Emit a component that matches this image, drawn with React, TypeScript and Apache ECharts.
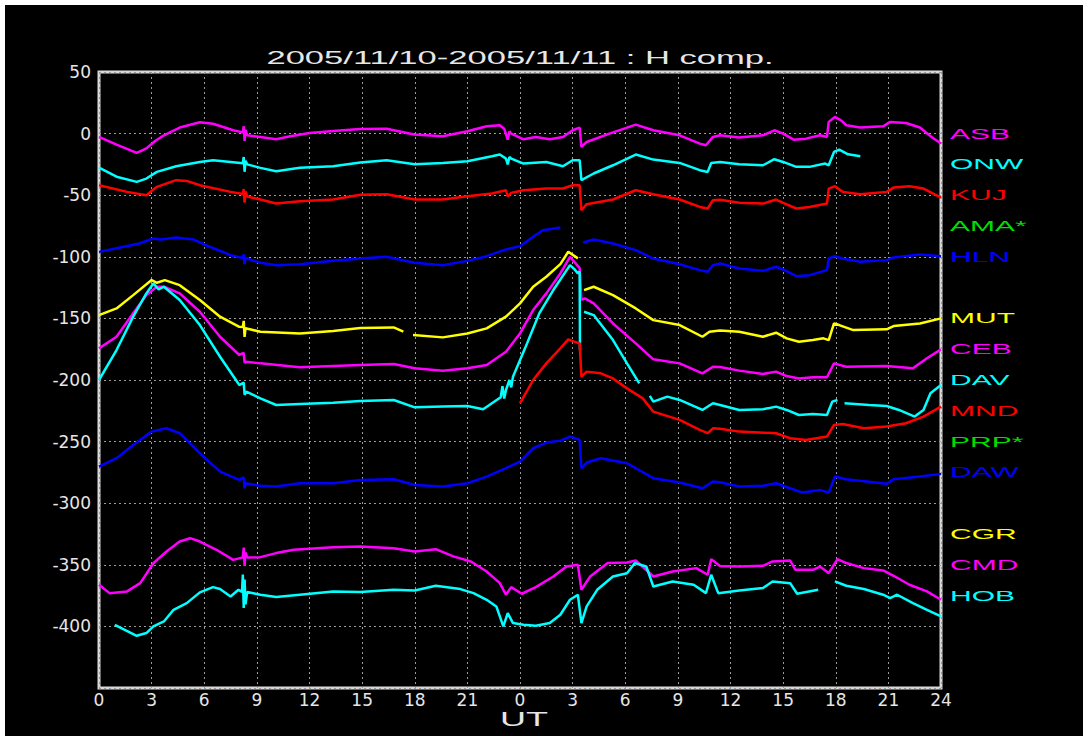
import React, { useEffect, useRef } from "react";
import * as echarts from "echarts";

const TITLE = "2005/11/10-2005/11/11 : H comp.";
const X_NAME = "UT";

const STATIONS = ["ASB", "ONW", "KUJ", "AMA*", "HLN", "MUT", "CEB", "DAV", "MND", "PRP*", "DAW", "CGR", "CMD", "HOB"];
const STATION_COLORS = ["#ff00ff", "#00ffff", "#ff0000", "#00dd00", "#0000ff", "#ffff00", "#ff00ff", "#00ffff", "#ff0000", "#00dd00", "#0000ff", "#ffff00", "#ff00ff", "#00ffff"];
const STATION_LEVELS = [0, -25, -50, -75, -100, -150, -175, -200, -225, -250, -275, -325, -350, -375];

type P = [number, number | null];

const ASB: P[] = [[0,-2.7],[1,-9],[2.15,-15.7],[2.7,-12],[3.2,-6],[3.7,-1.4],[4.6,4.9],[5.75,9.2],[6.5,8],[7.65,2.7],[8.2,1],[8.25,6],[8.3,-6],[8.35,3],[8.45,-1.4],[9.2,-2.7],[10.1,-4.6],[10.9,-2.2],[12,0.5],[13.35,2.2],[14.9,3.8],[16.4,4],[17.97,-0.8],[19.6,-2.2],[21,1.9],[22.1,6],[22.85,6.8],[23.1,4],[23.3,-4.9],[23.4,2],[23.5,0],[24.2,-4.6],[24.9,-2.7],[25.7,-4.6],[26.45,-2.7],[27,2.7],[27.4,4.9],[27.5,-10.8],[27.8,-6.8],[29.1,0],[30.6,7.3],[31.6,2.7],[33.1,-1.4],[34.25,-8.1],[34.6,-9.5],[35,-2.7],[35.4,-1.4],[36.5,-3.2],[37.85,-1.4],[38.5,2.7],[39,0],[39.6,-4.9],[40.3,-4.1],[41.1,-1.4],[41.5,-2.7],[41.6,9.5],[41.95,13.5],[42.3,10.8],[42.6,6.8],[43.4,4.9],[44.7,5.9],[45.1,9.5],[46,8.6],[46.8,4.9],[47.5,-3.2],[48,-8.1]];

const ONW: P[] = [[0,-27.6],[1,-35],[2.15,-39.2],[2.7,-36.5],[3.3,-31.1],[4.4,-26.5],[5.75,-23],[6.5,-21.6],[7.5,-23],[8.2,-24],[8.25,-19],[8.3,-31],[8.35,-22],[8.45,-25],[9.2,-27.8],[10.1,-30.5],[11.45,-27.8],[13.35,-26.5],[14.9,-23.5],[16.4,-21.6],[18,-24.9],[19.6,-23.8],[21,-22.4],[22.4,-18.4],[22.85,-17],[23.2,-20.3],[23.3,-25],[23.4,-19],[23.5,-20.3],[24.2,-24.3],[25.5,-23],[26.45,-26.5],[27,-21.6],[27.4,-21.6],[27.5,-37.8],[28.2,-32.4],[29.3,-25.7],[30.6,-17],[31.6,-21.1],[33.1,-23.8],[34.25,-29.7],[34.7,-31.1],[34.9,-23.8],[35.4,-23],[36.5,-24.9],[37.85,-25.7],[38.5,-20.8],[39,-23],[39.75,-27],[40.5,-27],[41.4,-24.3],[41.6,-25.7],[41.9,-14.9],[42.2,-13],[42.7,-16.8],[43.4,-18.4]];

const KUJ: P[] = [[0,-41.9],[1.6,-47.3],[2.7,-50],[3.3,-43.2],[4.4,-37.8],[5,-38.4],[5.75,-41.9],[7.5,-47.3],[8.2,-49],[8.25,-45],[8.3,-56],[8.35,-47],[8.45,-51],[9.2,-53.5],[10.1,-56.8],[11.45,-54.9],[13.35,-53.5],[14.9,-49.7],[16.4,-49.2],[18,-53.5],[19.6,-53.5],[21,-50.8],[22.4,-48.6],[23.2,-46],[23.3,-51],[23.5,-48.1],[24.2,-46],[25.5,-44.6],[26.45,-44.6],[27,-41.9],[27.4,-41.9],[27.5,-62.2],[27.8,-57.3],[29.3,-53.5],[30.6,-46],[31.6,-49.2],[33.1,-53.5],[34.25,-59.5],[34.7,-60.8],[35,-54],[35.4,-53.7],[36.5,-56.2],[37.85,-56.8],[38.6,-53.5],[39,-56.2],[39.75,-60.8],[40.5,-59.5],[41.5,-56.8],[41.6,-44.6],[41.95,-42.7],[42.4,-47.3],[43.4,-49.2],[44.9,-47.3],[45.3,-43.8],[46.2,-42.7],[47,-44.6],[48,-51.9]];

const HLN: P[] = [[0,-96],[1.2,-92.4],[2.3,-89.2],[3.1,-85.1],[3.5,-86],[4.4,-84.3],[5.4,-86],[6.1,-90.6],[7.5,-98.7],[8.2,-101],[8.25,-98],[8.3,-106],[8.35,-101],[9.2,-104.9],[10.1,-106.8],[11.45,-106],[13.35,-103.3],[14.9,-101.4],[16.4,-100],[18,-104.9],[19.6,-106.8],[21,-103.3],[22.1,-99.5],[23.2,-94],[24,-91.4],[24.75,-83.8],[25.3,-78.4],[26.3,-76.2],[26.9,null],[27.6,-88.4],[28.2,-86],[29.3,-89.2],[30.6,-94.6],[31.6,-101.4],[33.1,-106],[34.25,-110.8],[34.7,-112.2],[35,-106.8],[35.4,-105.4],[36.5,-109.5],[37.85,-111.4],[38.6,-108.1],[39,-110.3],[39.75,-115.7],[40.5,-114.9],[41.5,-110.8],[41.6,-101.4],[41.95,-99.5],[42.4,-101.4],[43.4,-104.1],[44.9,-102.7],[45.3,-100.5],[46.8,-98.1],[48,-99.5]];

const MUT: P[] = [[0,-147.3],[1,-141.9],[1.95,-131.1],[3,-118.9],[3.3,-121.1],[3.75,-118.9],[4.6,-123],[5.75,-135.1],[6.9,-148.6],[8,-156.8],[8.2,-157],[8.25,-152],[8.3,-165],[8.35,-158],[9.2,-160.8],[11.45,-162.2],[13.35,-160.3],[14.9,-157.8],[16.8,-157.3],[17.35,-160.8],[17.6,null],[17.9,-163.5],[19.6,-165.4],[21,-162.2],[22.1,-158.1],[23.2,-148.6],[24,-137.8],[24.75,-124.3],[25.5,-116.2],[26.3,-106],[26.75,-95.9],[27.3,-101.3],[27.5,null],[27.65,-127],[28.2,-124.3],[29.3,-131.1],[30.6,-141.9],[31.6,-151.4],[33.1,-155.4],[34.4,-164.9],[34.8,-160.8],[35.4,-159.8],[36.5,-160.8],[37.85,-164.9],[38.6,-161.6],[39.2,-166.2],[39.9,-168.9],[40.7,-167.6],[41.3,-166.2],[41.6,-167.6],[41.9,-154.1],[42.2,-155.4],[43,-159.5],[44.9,-158.9],[45.3,-156.2],[46.8,-154.1],[48,-150]];

const CEB: P[] = [[0,-174.3],[1,-164.9],[1.95,-145.9],[2.7,-131.1],[3.3,-124.3],[3.7,-124.3],[4.6,-129.7],[5.75,-144.6],[6.9,-164.9],[8,-179.7],[8.25,-178],[8.3,-186],[8.4,-185.1],[9.2,-186.5],[11.45,-189.7],[13.35,-188.6],[14.9,-187.8],[16.8,-187],[18,-190.5],[19.6,-192.4],[21,-190.5],[22.1,-187.8],[23.2,-177],[24,-162.2],[24.75,-143.2],[25.5,-129.7],[26.3,-113.5],[26.85,-100],[27.4,-109.2],[27.5,-135],[27.7,-133.8],[28.2,-137.8],[29.3,-154.1],[30.6,-170.3],[31.6,-183.2],[33.1,-186.5],[34.4,-194.6],[35,-189.2],[35.4,-189.5],[36.5,-192.4],[37.85,-195.1],[38.6,-193.2],[39.2,-196.8],[39.9,-198.7],[40.7,-197.8],[41.5,-197.8],[41.9,-186.5],[42.6,-189.2],[44.9,-188.6],[46.4,-190.5],[47.2,-182.4],[48,-175.1]];

const DAV: P[] = [[0,-200],[1,-175.7],[1.95,-148.6],[2.7,-129.7],[3.1,-121.6],[3.4,-126.5],[3.7,-124.3],[4.6,-135.1],[5.75,-155.4],[6.9,-181.1],[8,-204.1],[8.25,-202],[8.3,-212],[8.4,-209.5],[9.2,-214.9],[10.1,-220.3],[11.45,-219.5],[13.35,-218.4],[14.9,-217],[16.8,-216.2],[18,-222.2],[19.6,-221.6],[21,-221.1],[21.9,-223.8],[22.4,-218.9],[22.9,-214],[23,-205],[23.1,-215],[23.2,-208.1],[23.4,-200],[23.5,-206],[23.6,-197.3],[24.4,-170.3],[25.1,-145.9],[25.9,-127],[26.7,-110],[26.85,-106.7],[27.1,-110],[27.3,-113.5],[27.4,-112],[27.42,-175.7],[27.45,null],[27.65,-144.6],[28.2,-147.3],[29.3,-167.6],[30.1,-186.5],[30.8,-202.7],[31.1,null],[31.4,-212.9],[31.6,-217.6],[32.4,-213.5],[33.1,-216.2],[34.4,-224.3],[35,-218.9],[35.4,-220.3],[36.5,-224.3],[37.85,-223.8],[38.6,-221.6],[39.2,-224.3],[39.9,-228.4],[40.7,-227.6],[41.5,-228.4],[41.8,-217.6],[42.1,-216.2],[42.3,null],[42.5,-218.9],[43.9,-220.3],[44.9,-221.1],[45.6,-224.3],[46.5,-229.7],[47,-224.3],[47.4,-210.8],[48,-204.1]];

const MND: P[] = [[24,-218.9],[24.75,-200],[25.5,-186.5],[26.3,-174.3],[26.75,-167],[27.1,-168.9],[27.4,-170.3],[27.5,-197.3],[27.8,-193.2],[28.6,-194.6],[29.3,-198.7],[30.1,-206.8],[31,-214.9],[31.6,-225.7],[33.1,-232.4],[34.25,-240.5],[34.7,-243.2],[35,-239.2],[35.4,-239.6],[36.5,-241.9],[38.6,-243.2],[39.4,-247.3],[40.3,-248.7],[41.5,-245.9],[41.9,-236.5],[42.4,-235.7],[43.6,-239.2],[44.9,-237.8],[46,-235.1],[47,-229.7],[48,-221.6]];

const DAW: P[] = [[0,-270.3],[1,-263.5],[1.95,-252.7],[3,-241.9],[3.85,-239.2],[4.6,-243.2],[5.75,-259.5],[6.9,-274.3],[8,-281.1],[8.25,-279],[8.3,-288],[8.35,-283.8],[9.2,-285.9],[10.1,-286.5],[11.45,-283.8],[13.35,-283.8],[14.9,-281.1],[16.8,-280.6],[18,-285.2],[19.6,-286.5],[21,-283.8],[22.1,-278.4],[23.2,-271.6],[24,-266.2],[24.75,-255.4],[25.5,-250.8],[26.3,-249.2],[26.85,-245.9],[27.4,-248.6],[27.5,-271.6],[27.8,-267],[28.6,-263.5],[30.1,-267.6],[31.6,-279.7],[33.1,-283.2],[34.4,-287.9],[35,-282.4],[35.4,-283],[36.5,-286.5],[37.85,-285.9],[38.6,-283.8],[39.4,-287.9],[40.1,-291.4],[41.1,-289.2],[41.6,-291.4],[41.95,-278.4],[42.6,-280.6],[44.9,-284.3],[45.3,-280.6],[46.8,-278.4],[48,-276.2]];

const CMD: P[] = [[0,-366.2],[0.6,-373],[1.6,-371.6],[2.35,-364.9],[3.1,-348.7],[3.85,-339.2],[4.6,-331.1],[5.2,-328.4],[5.75,-331.1],[6.7,-337.8],[7.65,-346],[8.2,-344],[8.25,-336],[8.3,-351],[8.35,-340],[8.45,-344],[9.2,-343.8],[10.1,-340.5],[11.1,-337.8],[13.35,-335.7],[14.9,-335.1],[16.8,-336.5],[18,-339.2],[19.2,-337.3],[20.2,-343.2],[21.2,-347.3],[22.1,-355.4],[22.85,-364.9],[23.2,-374.3],[23.5,-368.1],[24.1,-373.5],[24.9,-368.1],[25.9,-359.5],[26.65,-351.4],[27.3,-350],[27.5,-370.3],[28,-359.5],[29,-348.6],[30.1,-348.1],[30.6,-346.5],[31.6,-359.5],[32.7,-355.4],[34.05,-352.7],[34.7,-358.1],[34.9,-345.4],[35.4,-351],[36.5,-351.4],[37.85,-350.8],[38.4,-347.3],[39.4,-346.5],[39.7,-354.1],[40.7,-354.1],[41.1,-351.4],[41.6,-356.8],[42.1,-345.4],[42.6,-348.6],[43.6,-352.7],[44.7,-354.6],[45.3,-358.9],[46.2,-366.2],[47.2,-371.6],[48,-378.4]];

const HOB: P[] = [[0.9,-398.7],[2.15,-407.6],[2.7,-405.4],[3.1,-400],[3.7,-396],[4.25,-386.5],[5,-381.1],[5.75,-372.4],[6.5,-368.1],[6.9,-369.7],[7.5,-375.7],[7.95,-370.3],[8.15,-372],[8.2,-358],[8.25,-385],[8.3,-362],[8.35,-382],[8.45,-372],[9.2,-374.3],[10.1,-376.2],[11.45,-374.3],[13.35,-371.6],[14.9,-372],[16.8,-370.3],[18,-370.8],[19.2,-367],[20.6,-369.7],[21.35,-373],[22.1,-378.4],[22.65,-383.8],[23.05,-400],[23.3,-389.2],[23.6,-397.3],[24.2,-398.7],[24.9,-399.5],[25.7,-397.3],[26.3,-390.5],[26.85,-378.4],[27.3,-374.3],[27.5,-397.3],[27.8,-383.8],[28.4,-370.3],[29.3,-359.5],[30.1,-356.8],[30.55,-348.6],[31.2,-351.4],[31.6,-367.6],[32.7,-363.5],[33.9,-366.2],[34.6,-373],[34.9,-358.1],[35.3,-373],[36.5,-370.8],[37.85,-368.9],[38.4,-363.5],[39.4,-364.9],[39.8,-373.5],[41,-370.3],[41.5,null],[41.95,-363.5],[42.6,-367],[43.6,-369.7],[44.7,-374.3],[45.1,-377],[45.5,-374.3],[46.4,-381.1],[47.2,-386.5],[48,-391.9]];

const AMA: P[] = [];
const PRP: P[] = [];
const CGR: P[] = [];

const SERIES_DATA: P[][] = [ASB, ONW, KUJ, AMA, HLN, MUT, CEB, DAV, MND, PRP, DAW, CGR, CMD, HOB];

const X_MIN = 0, X_MAX = 48, X_STEP = 3;
const Y_MIN = -450, Y_MAX = 50, Y_STEP = 50;

export default function App() {
  const ref = useRef<HTMLDivElement>(null);
  useEffect(() => {
    document.body.style.margin = "0";
    const chart = echarts.init(ref.current!, null, { renderer: "svg" });
    const axisFont = "DejaVu Sans";
    chart.setOption({
      animation: false,
      backgroundColor: "#000",
      grid: {
        left: 94, right: 142, top: 67, bottom: 48,
        show: true, borderColor: "#d8d8d8", borderWidth: 3, backgroundColor: "transparent",
      },
      xAxis: {
        type: "value", min: X_MIN, max: X_MAX, interval: X_STEP,
        axisLine: { show: false }, axisTick: { show: false },
        splitLine: { show: true, lineStyle: { color: "#9a9a9a", type: [2, 3], width: 1 } },
        axisLabel: {
          color: "#e6e6e6", fontSize: 17, fontFamily: axisFont, margin: 3,
          formatter: (v: number) => (v === 48 ? "24" : String(v % 24)),
        },
      },
      yAxis: {
        type: "value", min: Y_MIN, max: Y_MAX, interval: Y_STEP,
        axisLine: { show: false }, axisTick: { show: false },
        splitLine: { show: true, lineStyle: { color: "#9a9a9a", type: [2, 3], width: 1 } },
        axisLabel: {
          color: "#e6e6e6", fontSize: 17, fontFamily: axisFont, margin: 8,
          formatter: (v: number) => (v === Y_MIN ? "" : String(v)),
        },
      },
      series: SERIES_DATA.map((d, i) => ({
        name: STATIONS[i],
        type: "line",
        data: d,
        showSymbol: false,
        symbol: "none",
        connectNulls: false,
        lineStyle: { color: STATION_COLORS[i], width: 2.5 },
        itemStyle: { color: STATION_COLORS[i] },
        z: 3,
      })),
    });

    const labelGraphics = STATIONS.map((s, i) => {
      const pt = chart.convertToPixel({ gridIndex: 0 }, [X_MAX, STATION_LEVELS[i]]) as number[];
      return {
        type: "text",
        x: pt[0] + 9,
        y: pt[1],
        scaleX: 2,
        style: {
          text: s, fill: STATION_COLORS[i], font: '15px "Liberation Sans"',
          textAlign: "left", textVerticalAlign: "middle", align: "left", verticalAlign: "middle",
        },
      };
    });
    const topLeft = chart.convertToPixel({ gridIndex: 0 }, [X_MIN, Y_MAX]) as number[];
    const bottomRight = chart.convertToPixel({ gridIndex: 0 }, [X_MAX, Y_MIN]) as number[];
    const cx = (topLeft[0] + bottomRight[0]) / 2;
    chart.setOption({
      graphic: [
        {
          type: "text", x: cx, y: topLeft[1] - 14, scaleX: 1.92,
          style: {
            text: TITLE, fill: "#e6e6e6", font: '18px "Liberation Sans"',
            textAlign: "center", textVerticalAlign: "middle", align: "center", verticalAlign: "middle",
          },
        },
        {
          type: "text", x: cx + 4, y: bottomRight[1] + 31, scaleX: 1.8,
          style: {
            text: X_NAME, fill: "#e6e6e6", font: '20px "Liberation Sans"',
            textAlign: "center", textVerticalAlign: "middle", align: "center", verticalAlign: "middle",
          },
        },
        ...labelGraphics,
      ],
    });
    return () => chart.dispose();
  }, []);
  return (
    <div
      ref={ref}
      style={{ position: "fixed", left: 5, top: 5, width: 1078, height: 731, background: "#000" }}
    />
  );
}
